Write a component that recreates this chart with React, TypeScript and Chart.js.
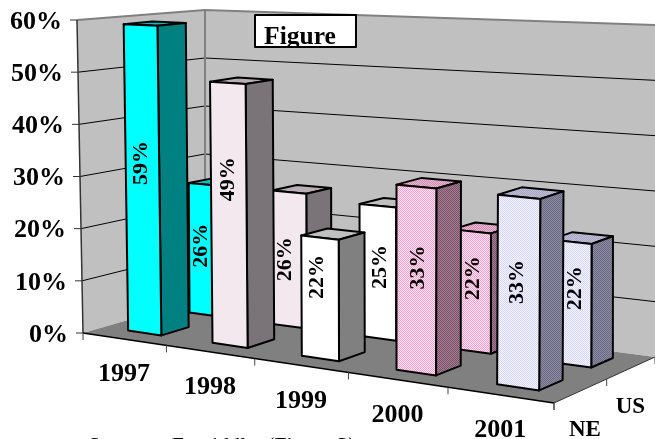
import React, { useEffect, useRef } from "react";
import { Chart, registerables } from "chart.js";

Chart.register(...registerables);

// Survey results per year and region
const years = ["1997", "1998", "1999", "2000", "2001"];
const regions = ["NE", "US"];
const neValues = [59, 49, 22, 33, 33];
const usValues = [26, 26, 25, 22, 22];

// Bar paint per year: two dither colours for each of the three visible faces
const frontPaint = [
  ["#00FFFF", "#00FFFF"],
  ["#F3E8EE", "#F3E8EE"],
  ["#FFFFFF", "#FFFFFF"],
  ["#FF9ACC", "#FFEAF5"],
  ["#D4D4FF", "#F6F6FF"],
];
const sidePaint = [
  ["#008080", "#008080"],
  ["#7A7478", "#7A7478"],
  ["#808080", "#808080"],
  ["#7E4C66", "#A08496"],
  ["#6A6A86", "#8C8CA0"],
];
const topPaint = [
  ["#00C0C0", "#00C0C0"],
  ["#B8AEB3", "#B8AEB3"],
  ["#C0C0C0", "#C0C0C0"],
  ["#D08CB0", "#E6BCD4"],
  ["#A6A6C4", "#C0C0D4"],
];

// Hand placement of the value labels relative to the centre of each front face
const labelNudgeNE = [[-1, -16], [-1, -35], [-3, -21], [2, -12], [-1, -10]];
const labelNudgeUS = [[-4, -4], [-4, 0], [2, -5], [2, -13], [4, -15]];

type Pt = [number, number];

// Floor corners on screen: near-left, near-right, far-right, far-left
const floorQuad: Pt[] = [[83, 333], [554, 403], [655, 357], [205, 298]];
// Full-height vertical edge at each of those corners
const riseAtCorner: Pt[] = [[-6, -313], [3, -354], [0, -332], [0, -288]];

const BAR_HALF_WIDTH = 0.04;
const BAR_HALF_DEPTH = 0.11;
const BAR_DEPTH_SHIFT = 0.02;
const SERIF = '"Liberation Serif", "Times New Roman", serif';

function homography(q: Pt[]) {
  const [[x0, y0], [x1, y1], [x2, y2], [x3, y3]] = q;
  const sx = x0 - x1 + x2 - x3;
  const sy = y0 - y1 + y2 - y3;
  const dx1 = x1 - x2;
  const dx2 = x3 - x2;
  const dy1 = y1 - y2;
  const dy2 = y3 - y2;
  const den = dx1 * dy2 - dx2 * dy1;
  const g = (sx * dy2 - dx2 * sy) / den;
  const h = (dx1 * sy - sx * dy1) / den;
  const a = x1 - x0 + g * x1;
  const b = x3 - x0 + h * x3;
  const d = y1 - y0 + g * y1;
  const e = y3 - y0 + h * y3;
  return (u: number, v: number): Pt => {
    const w = g * u + h * v + 1;
    return [(a * u + b * v + x0) / w, (d * u + e * v + y0) / w];
  };
}

const onFloor = homography(floorQuad);

function project(u: number, v: number, t: number): Pt {
  const f = onFloor(u, v);
  const w = [(1 - u) * (1 - v), u * (1 - v), u * v, (1 - u) * v];
  let rx = 0;
  let ry = 0;
  riseAtCorner.forEach((r, i) => {
    rx += r[0] * w[i];
    ry += r[1] * w[i];
  });
  return [f[0] + rx * t, f[1] + ry * t];
}

function ditherFill(ctx: CanvasRenderingContext2D, pair: string[]) {
  if (pair[0] === pair[1]) return pair[0];
  const tile = document.createElement("canvas");
  tile.width = 2;
  tile.height = 2;
  const t = tile.getContext("2d")!;
  t.fillStyle = pair[1];
  t.fillRect(0, 0, 2, 2);
  t.fillStyle = pair[0];
  t.fillRect(0, 0, 1, 1);
  t.fillRect(1, 1, 1, 1);
  return ctx.createPattern(tile, "repeat")!;
}

function poly(ctx: CanvasRenderingContext2D, pts: Pt[], fill?: any, stroke?: string, lw = 1) {
  ctx.beginPath();
  pts.forEach((p, i) => (i ? ctx.lineTo(p[0], p[1]) : ctx.moveTo(p[0], p[1])));
  if (fill) {
    ctx.closePath();
    ctx.fillStyle = fill;
    ctx.fill();
  }
  if (stroke) {
    ctx.strokeStyle = stroke;
    ctx.lineWidth = lw;
    ctx.lineJoin = "round";
    ctx.stroke();
  }
}

function text(ctx: CanvasRenderingContext2D, s: string, x: number, y: number, font: string, align: CanvasTextAlign = "center") {
  ctx.font = font;
  ctx.fillStyle = "#000";
  ctx.textAlign = align;
  ctx.textBaseline = "middle";
  ctx.fillText(s, x, y);
}

// Draws the walls, floor, axes and boxes in perspective from the chart's scales
const perspectiveBars = {
  id: "perspectiveBars",
  beforeDatasetsDraw(chart: any) {
    const { ctx } = chart;
    const xs = chart.scales.x;
    const ds = chart.scales.depth;
    const ys = chart.scales.y;
    const uOf = (i: number) => (xs.getPixelForValue(i) - xs.left) / xs.width;
    const vOf = (i: number) => (ds.getPixelForValue(i) - ds.left) / ds.width;
    const tOf = (val: number) => (ys.bottom - ys.getPixelForValue(val)) / ys.height;

    ctx.save();

    // Walls and floor
    poly(ctx, [project(0, 0, 0), project(0, 0, 1), project(0, 1, 1), project(0, 1, 0)], "#C0C0C0");
    poly(ctx, [project(0, 1, 0), project(0, 1, 1), project(1, 1, 1), project(1, 1, 0)], "#C0C0C0");
    poly(ctx, [project(0, 0, 0), project(1, 0, 0), project(1, 1, 0), project(0, 1, 0)], "#808080");

    // Value gridlines around both walls
    for (const tick of ys.ticks) {
      const t = tOf(tick.value);
      if (t > 0 && t < 1) {
        poly(ctx, [project(0, 0, t), project(0, 1, t), project(1, 1, t)], null, "#000", 1);
      }
    }
    poly(ctx, [project(0, 0, 1), project(0, 1, 1), project(1, 1, 1)], null, "#808080", 2);
    poly(ctx, [project(0, 1, 0), project(0, 1, 1)], null, "#808080", 2);

    // Axis lines and tick marks
    poly(ctx, [project(0, 0, 0), project(0, 0, 1)], null, "#333", 1.5);
    poly(ctx, [project(0, 0, 0), project(1, 0, 0)], null, "#000", 1.5);
    poly(ctx, [project(1, 0, 0), project(1, 1, 0)], null, "#333", 1);
    for (const tick of ys.ticks) {
      const p = project(0, 0, tOf(tick.value));
      poly(ctx, [p, [p[0] - 7, p[1]]], null, "#333", 1);
      text(ctx, `${tick.value}%`, p[0] - 15, p[1] + 2, `bold 26px ${SERIF}`, "right");
    }
    for (let i = 0; i <= years.length; i++) {
      const p = project(i / years.length, 0, 0);
      poly(ctx, [p, [p[0], p[1] + 7]], null, "#444", 1);
    }
    for (let i = 0; i <= regions.length; i++) {
      const p = project(1, i / regions.length, 0);
      poly(ctx, [p, [p[0], p[1] + 7]], null, "#444", 1);
    }
    years.forEach((y, i) => {
      const p = project(uOf(i), 0, 0);
      text(ctx, y, p[0], p[1] + 35.5, `bold 26px ${SERIF}`);
    });
    regions.forEach((r, i) => {
      const p = project(1, vOf(i), 0);
      text(ctx, r, p[0] + (i === 0 ? 4 : -1), p[1] + 39, `bold 23px ${SERIF}`);
    });

    // Boxes: far row first so the near row covers it
    const order = [1, 0];
    const labels: any[] = [];
    for (const di of order) {
      const set = chart.data.datasets[di];
      const v = vOf(di) + BAR_DEPTH_SHIFT;
      set.data.forEach((val: number, i: number) => {
        const u = uOf(i);
        const t = tOf(val);
        const u0 = u - BAR_HALF_WIDTH;
        const u1 = u + BAR_HALF_WIDTH;
        const v0 = v - BAR_HALF_DEPTH;
        const v1 = v + BAR_HALF_DEPTH;
        const a = project(u0, v0, 0);
        const b = project(u1, v0, 0);
        const c = project(u1, v1, 0);
        const A = project(u0, v0, t);
        const B = project(u1, v0, t);
        const C = project(u1, v1, t);
        const D = project(u0, v1, t);
        poly(ctx, [A, B, C, D], ditherFill(ctx, topPaint[i]), "#000", 2);
        poly(ctx, [b, c, C, B], ditherFill(ctx, sidePaint[i]), "#000", 2);
        poly(ctx, [a, b, B, A], ditherFill(ctx, frontPaint[i]), "#000", 2);
        const nudge = (di === 0 ? labelNudgeNE : labelNudgeUS)[i];
        labels.push({
          s: `${val}%`,
          x: (a[0] + b[0] + A[0] + B[0]) / 4 + nudge[0],
          y: (a[1] + b[1] + A[1] + B[1]) / 4 + nudge[1],
        });
      });
    }

    // Value labels read bottom to top along each front face
    for (const l of labels) {
      ctx.save();
      ctx.translate(l.x, l.y);
      ctx.rotate(-Math.PI / 2);
      text(ctx, l.s, 0, 0, `bold 22px ${SERIF}`);
      ctx.restore();
    }

    // Title box
    ctx.fillStyle = "#fff";
    ctx.strokeStyle = "#000";
    ctx.lineWidth = 2;
    ctx.fillRect(255, 15, 101, 32);
    ctx.save();
    ctx.beginPath();
    ctx.rect(255, 15, 101, 32);
    ctx.clip();
    ctx.font = `bold 25.5px ${SERIF}`;
    ctx.fillStyle = "#000";
    ctx.textAlign = "center";
    ctx.textBaseline = "alphabetic";
    ctx.fillText("Figure", 300, 44);
    ctx.restore();
    ctx.strokeRect(255, 15, 101, 32);

    // Source line
    ctx.font = `22px ${SERIF}`;
    ctx.fillStyle = "#000";
    ctx.textAlign = "left";
    ctx.textBaseline = "alphabetic";
    ctx.fillText("Source:   Fanriddle  (Figure 3)", 88, 452);

    ctx.restore();
    return false;
  },
};

export default function App() {
  const ref = useRef<HTMLCanvasElement>(null);
  useEffect(() => {
    const chart = new Chart(ref.current!, {
      type: "bar",
      data: {
        labels: years,
        datasets: [
          { label: regions[0], data: neValues },
          { label: regions[1], data: usValues },
        ],
      },
      options: {
        animation: false,
        responsive: false,
        plugins: { legend: { display: false }, tooltip: { enabled: false }, title: { display: false } },
        scales: {
          x: { type: "category", display: false, offset: true },
          depth: { type: "category", axis: "x", labels: regions, display: false, offset: true },
          y: { type: "linear", display: false, min: 0, max: 60, ticks: { stepSize: 10 } },
        },
      },
      plugins: [perspectiveBars],
    } as any);
    return () => chart.destroy();
  }, []);
  return (
    <div style={{ position: "fixed", left: 0, top: 0, width: 655, height: 439, background: "#fff", overflow: "hidden" }}>
      <canvas ref={ref} width={655} height={439} style={{ display: "block" }} />
    </div>
  );
}
